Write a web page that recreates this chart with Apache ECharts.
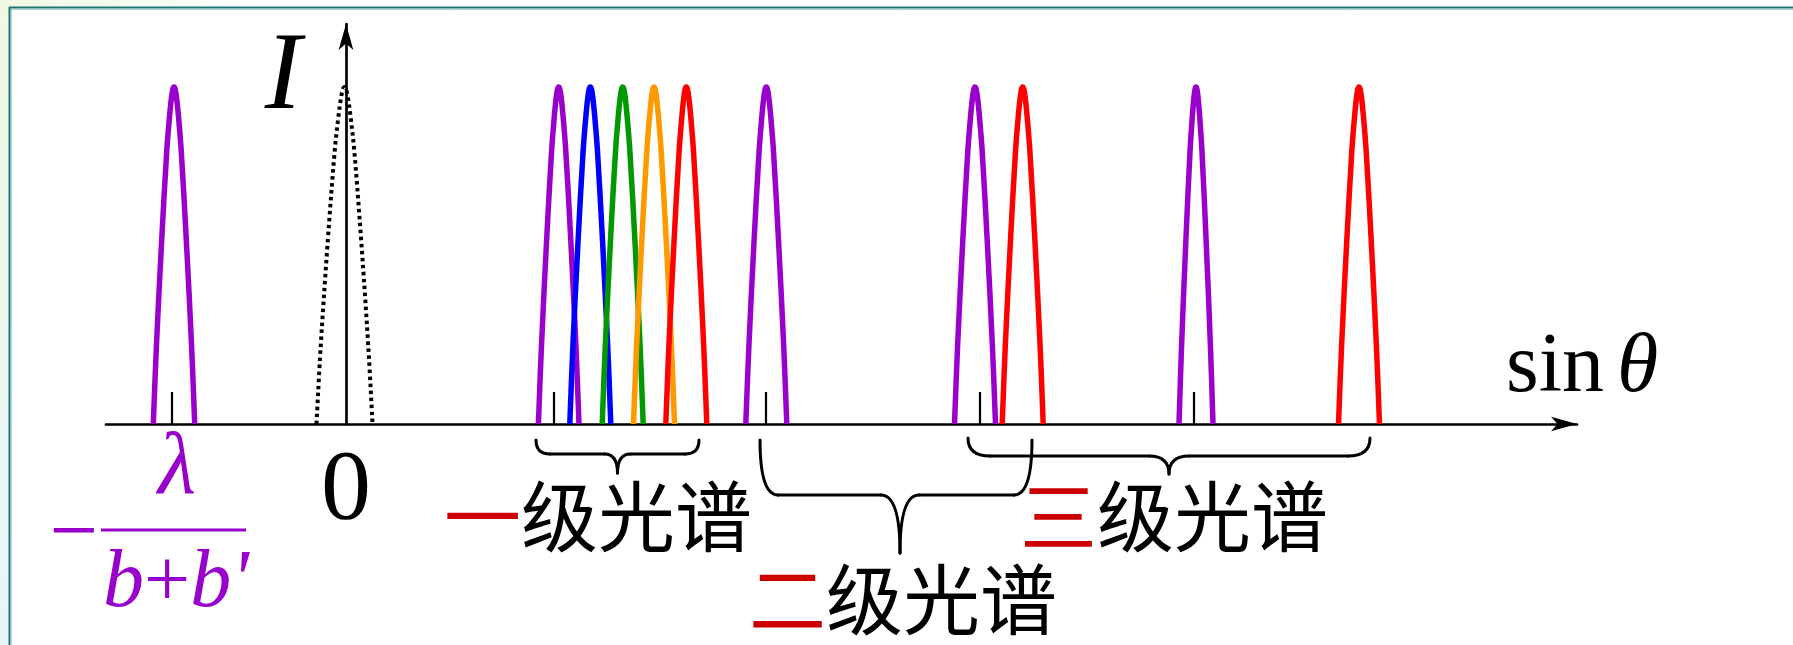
<!DOCTYPE html>
<html><head><meta charset="utf-8">
<script src="https://cdn.jsdelivr.net/npm/echarts@6/dist/echarts.min.js"></script>
<style>html,body{margin:0;padding:0;background:#fff}#c{width:1793px;height:645px}</style>
</head><body><div id="c"></div>
<script>
// ---- data (sin θ in arbitrary units, 0 = central maximum; intensity normalised to 1) ----
const peakNames   = ['-1 violet','0 order','1 violet','1 blue','1 green','1 orange','1 red','2 violet','3 violet','2 red','4 violet','3 red'];
const peakCenters = [-1.72, -0.015, 2.127, 2.443, 2.767, 3.08, 3.403, 4.203, 6.29, 6.767, 8.50, 10.13];
const peakHalfWidths = [0.207, 0.28, 0.203, 0.205, 0.205, 0.205, 0.205, 0.205, 0.205, 0.205, 0.17, 0.205];
const peakHeights = [1, 1, 1, 1, 1, 1, 1, 1, 1, 1, 1, 1];
const peakColorNames = ['violet','black','violet','blue','green','orange','red','violet','violet','red','violet','red'];
// shape of one peak (offset in half-widths, relative height)
const profileU = [-1, -0.85, -0.6, -0.35, -0.22, -0.12, -0.05, 0, 0.05, 0.12, 0.22, 0.35, 0.6, 0.85, 1];
const profileH = [0, 0.23, 0.54, 0.81, 0.91, 0.97, 0.995, 1, 0.995, 0.97, 0.91, 0.81, 0.54, 0.23, 0];
// short marks on the axis at k·λviolet/(b+b')
const tickPositions = [-1.745, 2.077, 4.20, 6.34, 8.48];
const tickHeight = 0.095;
// order spectra (braces): from, to, tip
const braceLabels = ['一级光谱', '二级光谱', '三级光谱'];
const braceFrom = [1.90, 4.14, 6.22];
const braceTo   = [3.53, 6.86, 10.24];
const braceTip  = [2.715, 5.54, 8.23];

// ---- styles ----
const palette = {violet:'#9900cc', blue:'#0000ff', green:'#009900', orange:'#ff9900', red:'#ff0000', black:'#000000'};
const serif = '"Liberation Serif","Times New Roman",serif';
const cjk = '"Noto Sans CJK SC","Noto Sans CJK JP",sans-serif';

const series = peakCenters.map((c, i) => ({
  name: peakNames[i],
  type: 'line',
  data: profileU.map((u, k) => [c + u * peakHalfWidths[i], profileH[k] * peakHeights[i]]),
  smooth: 0.35,
  symbol: 'none',
  z: 3,
  lineStyle: peakColorNames[i] === 'black'
    ? {color: '#000', width: 4, type: [3.5, 3.5]}
    : {color: palette[peakColorNames[i]], width: 5.5}
}));
series.push({
  type: 'lines', coordinateSystem: 'cartesian2d', z: 2,
  data: tickPositions.map(x => ({coords: [[x, 0], [x, tickHeight]]})),
  lineStyle: {color: '#000', width: 2.2, opacity: 1}
});

const chart = echarts.init(document.getElementById('c'), null, {renderer: 'canvas'});
chart.setOption({
  animation: false,
  backgroundColor: '#fff',
  grid: {left: 106, right: 216, top: 24, bottom: 221},
  xAxis: {
    type: 'value', min: -2.40, max: 12.31,
    axisLine: {onZero: true, lineStyle: {color: '#000', width: 2.7}, symbol: ['none', 'arrow'], symbolSize: [11, 26]},
    axisTick: {show: false}, axisLabel: {show: false}, splitLine: {show: false}
  },
  yAxis: {
    type: 'value', min: 0, max: 1.187,
    axisLine: {show: true, onZero: true, lineStyle: {color: '#000', width: 2.7}, symbol: ['none', 'arrow'], symbolSize: [11, 26]},
    axisTick: {show: false}, axisLabel: {show: false}, splitLine: {show: false}
  },
  series: series
});

// ---- annotations ----
function px(x) { return chart.convertToPixel({gridIndex: 0}, [x, 0]); }
const braceGeom = [
  {top: 440, bar: 454, tip: 473, r: 14, r2: 13},
  {top: 440, bar: 495, tip: 553, r: 18, r2: 19},
  {top: 438, bar: 456, tip: 474, r: 22, r2: 20}
];
const labelPos = [[444, 517], [749, 600], [1020, 517]];
const graphics = [];
// page frame
graphics.push({type: 'rect', shape: {x: 0, y: 0, width: 9, height: 645}, style: {fill: new echarts.graphic.LinearGradient(0, 0, 0, 1, [{offset: 0, color: '#f1f8e2'}, {offset: 1, color: '#e9f4fa'}])}, z: 0});
graphics.push({type: 'rect', shape: {x: 0, y: 0, width: 260, height: 7}, style: {fill: new echarts.graphic.LinearGradient(0, 0, 1, 0, [{offset: 0, color: '#f1f8e2'}, {offset: 1, color: '#ffffff'}])}, z: 0});
graphics.push({type: 'line', shape: {x1: 9, y1: 7.5, x2: 1793, y2: 7.5}, style: {stroke: '#1d7575', lineWidth: 2}, z: 1});
graphics.push({type: 'line', shape: {x1: 10, y1: 9.5, x2: 1793, y2: 9.5}, style: {stroke: '#a8d6d6', lineWidth: 1}, z: 1});
graphics.push({type: 'line', shape: {x1: 9.5, y1: 7, x2: 9.5, y2: 645}, style: {stroke: '#1d7575', lineWidth: 2}, z: 1});
graphics.push({type: 'line', shape: {x1: 11.5, y1: 9, x2: 11.5, y2: 645}, style: {stroke: '#a8d6d6', lineWidth: 1}, z: 1});

const braceStyle = {stroke: '#000', lineWidth: 3, fill: null, lineCap: 'round'};
function qcurve(x1, y1, cx, cy, x2, y2) {
  return {type: 'bezierCurve', shape: {x1: x1, y1: y1, cpx1: cx, cpy1: cy, x2: x2, y2: y2}, style: braceStyle, z: 5};
}
function seg(x1, y1, x2, y2) {
  return {type: 'line', shape: {x1: x1, y1: y1, x2: x2, y2: y2}, style: braceStyle, z: 5};
}
braceFrom.forEach((f, i) => {
  const g = braceGeom[i];
  const x1 = px(f)[0], x2 = px(braceTo[i])[0], xt = px(braceTip[i])[0];
  graphics.push(qcurve(x1, g.top, x1, g.bar, x1 + g.r, g.bar));
  graphics.push(seg(x1 + g.r, g.bar, xt - g.r2, g.bar));
  graphics.push(qcurve(xt - g.r2, g.bar, xt, g.bar, xt, g.tip));
  graphics.push(qcurve(xt, g.tip, xt, g.bar, xt + g.r2, g.bar));
  graphics.push(seg(xt + g.r2, g.bar, x2 - g.r, g.bar));
  graphics.push(qcurve(x2 - g.r, g.bar, x2, g.bar, x2, g.top));
  const txt = braceLabels[i];
  graphics.push({type: 'text', x: labelPos[i][0], y: labelPos[i][1], z: 6,
    style: {text: '{r|' + txt[0] + '}' + txt.slice(1), fontFamily: cjk, fontSize: 77, fill: '#000',
      align: 'left', verticalAlign: 'middle', rich: {r: {fill: '#cc0000', fontFamily: cjk, fontSize: 77}}}});
});

// axis names and labels
graphics.push({type: 'text', x: 283, y: 79, z: 6, style: {text: 'I', fontFamily: serif, fontStyle: 'italic', fontSize: 110, fill: '#000', align: 'center', verticalAlign: 'middle'}});
graphics.push({type: 'text', x: px(0)[0], y: 492, z: 6, style: {text: '0', fontFamily: serif, fontSize: 100, fill: '#000', align: 'center', verticalAlign: 'middle'}});
graphics.push({type: 'text', x: 1506, y: 368.6, z: 6, style: {text: 'sin', fontFamily: serif, fontSize: 84, fill: '#000', align: 'left', verticalAlign: 'middle'}});
graphics.push({type: 'text', x: 1617, y: 368.6, z: 6, style: {text: 'θ', fontFamily: serif, fontStyle: 'italic', fontSize: 84, fill: '#000', align: 'left', verticalAlign: 'middle'}});
// -λ/(b+b')
const vio = palette.violet;
graphics.push({type: 'text', x: 74, y: 536, z: 6, style: {text: '−', fontFamily: serif, fontSize: 86, fill: vio, align: 'center', verticalAlign: 'middle'}});
graphics.push({type: 'line', shape: {x1: 101, y1: 530, x2: 246, y2: 530}, style: {stroke: vio, lineWidth: 3}, z: 6});
graphics.push({type: 'text', x: 177, y: 470, z: 6, style: {text: 'λ', fontFamily: serif, fontStyle: 'italic', fontSize: 88, fill: vio, align: 'center', verticalAlign: 'middle'}});
graphics.push({type: 'text', x: 176, y: 584, z: 6, style: {text: "{i|b}+{i|b'}", fontFamily: serif, fontSize: 82, fill: vio, align: 'center', verticalAlign: 'middle',
  rich: {i: {fontFamily: serif, fontStyle: 'italic', fontSize: 82, fill: vio}}}});

chart.setOption({graphic: graphics});
</script></body></html>
